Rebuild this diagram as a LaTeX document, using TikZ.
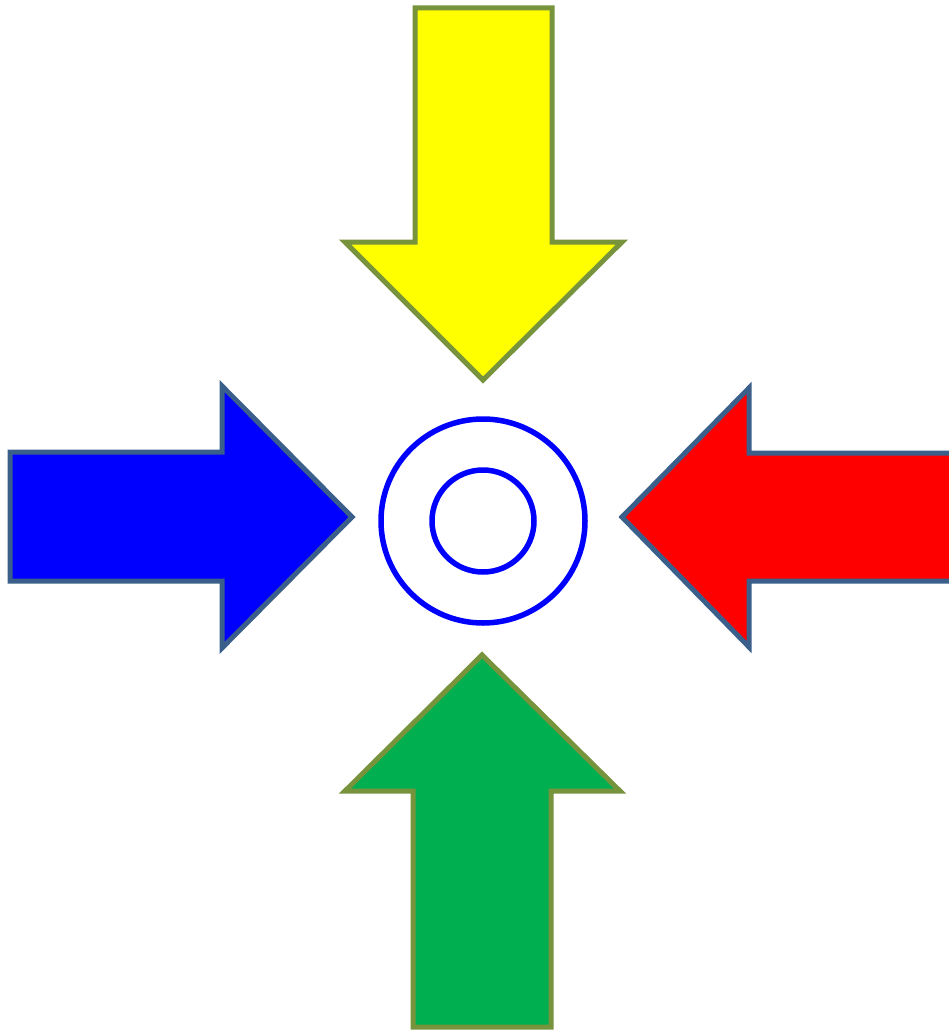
\documentclass[tikz,border=0pt]{standalone}
\definecolor{olivebd}{HTML}{77933C}
\definecolor{bluebd}{HTML}{3A5F8B}
\definecolor{greenfill}{HTML}{00B050}
\definecolor{yellowfill}{HTML}{FFFF00}
\definecolor{bluefill}{HTML}{0000FF}
\definecolor{redfill}{HTML}{FF0000}
\tikzset{
  arrowshape/.style={line width=5pt, line join=miter, miter limit=10},
  yarrow/.style={arrowshape, draw=olivebd, fill=yellowfill},
  garrow/.style={arrowshape, draw=olivebd, fill=greenfill},
  barrow/.style={arrowshape, draw=bluebd, fill=bluefill},
  rarrow/.style={arrowshape, draw=bluebd, fill=redfill},
  ring/.style={circle, draw=bluefill, line width=5.5pt, inner sep=0pt}
}
\begin{document}
\begin{tikzpicture}[x=1pt,y=-1pt]
\useasboundingbox (0,0) rectangle (949,1030);
% yellow (down)
\draw[yarrow] (415,8) -- (552,8) -- (552,242) -- (622,242) -- (483,380) -- (345,242) -- (415,242) -- cycle;
% green (up)
\draw[garrow] (413,1027) -- (551,1027) -- (551,791) -- (620,791) -- (482,655) -- (345,791) -- (413,791) -- cycle;
% blue (right)
\draw[barrow] (10,452) -- (222,452) -- (222,386) -- (352,517) -- (222,648) -- (222,581) -- (10,581) -- cycle;
% red (left)
\draw[rarrow] (960,453) -- (749,453) -- (749,388) -- (622,517) -- (749,647) -- (749,581) -- (960,581) -- cycle;
% circles
\node[ring, minimum size=204pt] (outer) at (483,521) {};
\node[ring, minimum size=102pt] (inner) at (483,521) {};
\end{tikzpicture}
\end{document}
